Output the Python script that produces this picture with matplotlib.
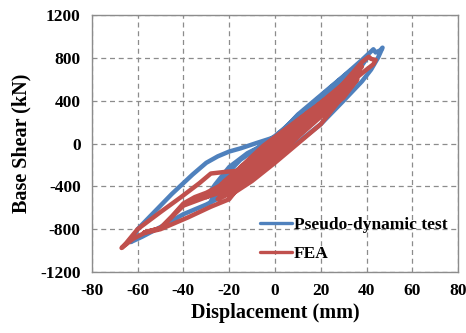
import matplotlib
matplotlib.use("Agg")
import matplotlib.pyplot as plt

plt.rcParams["axes.unicode_minus"] = False

# ---- data ----
test_disp = [0, 8, 16, 20, 17, 10, 0, -10, -18, -15, -8, 0, 10, 20, 25, 20, 10, 0, -10, -20,
             -24, -20, -10, 0, 10, 20, 28, 33, 30, 20, 10, 0, -10, -20, -28, -25, -20, -15, -8, 0,
             10, 20, 30, 38, 35, 25, 15, 5, 0, -10, -22, -30, -26, -20, -12, 0, 10, 20, 30, 38,
             43, 44, 46, 47, 45, 42, 38, 30, 20, 10, 0, -10, -20, -30, -40, -50, -58, -63, -62, -60,
             -55, -50, -45, -40, -36, -30, -25, -20, -15, -8, 0, 10, 20, 30, 36, 40, 35, 25, 15, 5,
             0, -10, -20, -16, -8, 0, 10, 20, 28, 22, 12, 0]
test_shear = [0, 190, 360, 440, 360, 190, -40, -220, -360, -250, -100, 50, 250, 420, 500, 380, 170, -30, -200, -330,
              -380, -300, -150, 30, 240, 440, 590, 680, 590, 360, 150, -80, -280, -440, -540, -420, -260, -150, -50, 70,
              240, 430, 610, 750, 650, 420, 200, 20, -60, -240, -400, -500, -380, -220, -90, 40, 270, 450, 630, 780,
              880, 850, 870, 895, 800, 690, 580, 400, 180, 10, -150, -320, -460, -570, -660, -780, -870, -920, -890, -800,
              -690, -580, -470, -370, -290, -180, -120, -75, -45, 5, 60, 260, 430, 610, 720, 790, 640, 400, 200, 40,
              -60, -230, -380, -260, -110, 20, 220, 410, 560, 410, 200, -20]

fea_disp = [0, 10, 20, 24, 20, 10, 0, -10, -20, -10, 0, 10, 20, 30, 33, 28, 20, 10, 0, -10,
            -20, -15, -5, 0, 10, 20, 30, 36, 30, 20, 10, 0, -10, -20, -25, -20, -10, 0, 10, 20,
            30, 38, 34, 25, 15, 5, 0, -10, -20, -28, -22, -12, 0, -10, -20, -30, -25, -15, -5, 5,
            15, 25, 32, 28, 18, 8, 0, 10, 20, 30, 36, 30, 20, 10, 0, -10, -20, -15, -5, 5,
            15, 22, 18, 10, 0, 10, 20,
            27, 36, 38, 41, 42, 44, 43, 40, 36, 27, 20, 10, 0, -10, -20, -30, -40, -50, -57, -50,
            -45, -40, -35, -30, -20, -10, 0, -10, -20, -28, -38, -50, -57, -62, -67, -65, -60, -50,
            -41, -33, -28, -21, -12, -5, 0, 10, 20, 30, 20, 10, 0]
fea_shear = [0, 160, 340, 410, 310, 120, -80, -260, -410, -220, -20, 170, 370, 530, 560, 440, 290, 100, -100, -280,
             -440, -330, -120, -30, 150, 340, 520, 630, 480, 280, 80, -130, -320, -470, -520, -400, -190, 20, 200, 380,
             560, 720, 600, 400, 200, 20, -70, -240, -380, -480, -350, -170, 40, -150, -340, -500, -440, -260, -60, 120,
             300, 460, 570, 460, 250, 40, -140, 60, 250, 430, 600, 450, 180, 0, -180, -350, -490, -220, -20, 140,
             300, 380, 300, 140, -20, 170, 350,
             490, 710, 760, 810, 790, 780, 740, 690, 620, 400, 270, 90, -110, -290, -430, -500, -580, -790, -830, -790,
             -680, -560, -500, -460, -350, -200, -40, -250, -520, -590, -690, -800, -835, -890, -975, -930, -800, -640,
             -500, -370, -280, -263, -250, -160, -60, 130, 320, 500, 300, 100, -50]

x_ticks = [-80, -60, -40, -20, 0, 20, 40, 60, 80]
y_ticks = [-1200, -800, -400, 0, 400, 800, 1200]
series_labels = ["Pseudo-dynamic test", "FEA"]

# ---- style ----
blue = "#4F81BD"
red = "#C0504D"
grid_col = "#8C8C8C"
font = "Liberation Serif"

fig = plt.figure(figsize=(4.66, 3.33), dpi=100)
ax = fig.add_axes([0.197, 0.183, 0.786, 0.772])

ax.plot(test_disp, test_shear, color=blue, lw=3.2, solid_joinstyle="round",
        solid_capstyle="round", label=series_labels[0], zorder=3)
ax.plot(fea_disp, fea_shear, color=red, lw=3.2, solid_joinstyle="round",
        solid_capstyle="round", label=series_labels[1], zorder=4)

ax.set_xlim(x_ticks[0], x_ticks[-1])
ax.set_ylim(y_ticks[0], y_ticks[-1])
ax.set_xticks(x_ticks)
ax.set_yticks(y_ticks)
ax.grid(True, color=grid_col, linestyle=(0, (4, 3)), linewidth=0.9, zorder=0)
ax.set_axisbelow(True)
ax.tick_params(length=0, pad=8, labelsize=12.5)
for lab in ax.get_xticklabels() + ax.get_yticklabels():
    lab.set_fontfamily(font)
    lab.set_fontweight("bold")
for s in ax.spines.values():
    s.set_color(grid_col)
    s.set_linewidth(1.0)

ax.set_xlabel("Displacement (mm)", fontfamily=font, fontweight="bold", fontsize=14.5, labelpad=3)
ax.set_ylabel("Base Shear (kN)", fontfamily=font, fontweight="bold", fontsize=14.5, labelpad=6)

leg = ax.legend(loc="lower right", bbox_to_anchor=(0.99, 0.012), frameon=False,
                prop={"family": font, "weight": "bold", "size": 12.5},
                handlelength=1.85, handletextpad=0.12, labelspacing=0.72, borderaxespad=0)
for h in leg.get_lines():
    h.set_linewidth(2.4)

fig.savefig("out.png", dpi=100)
